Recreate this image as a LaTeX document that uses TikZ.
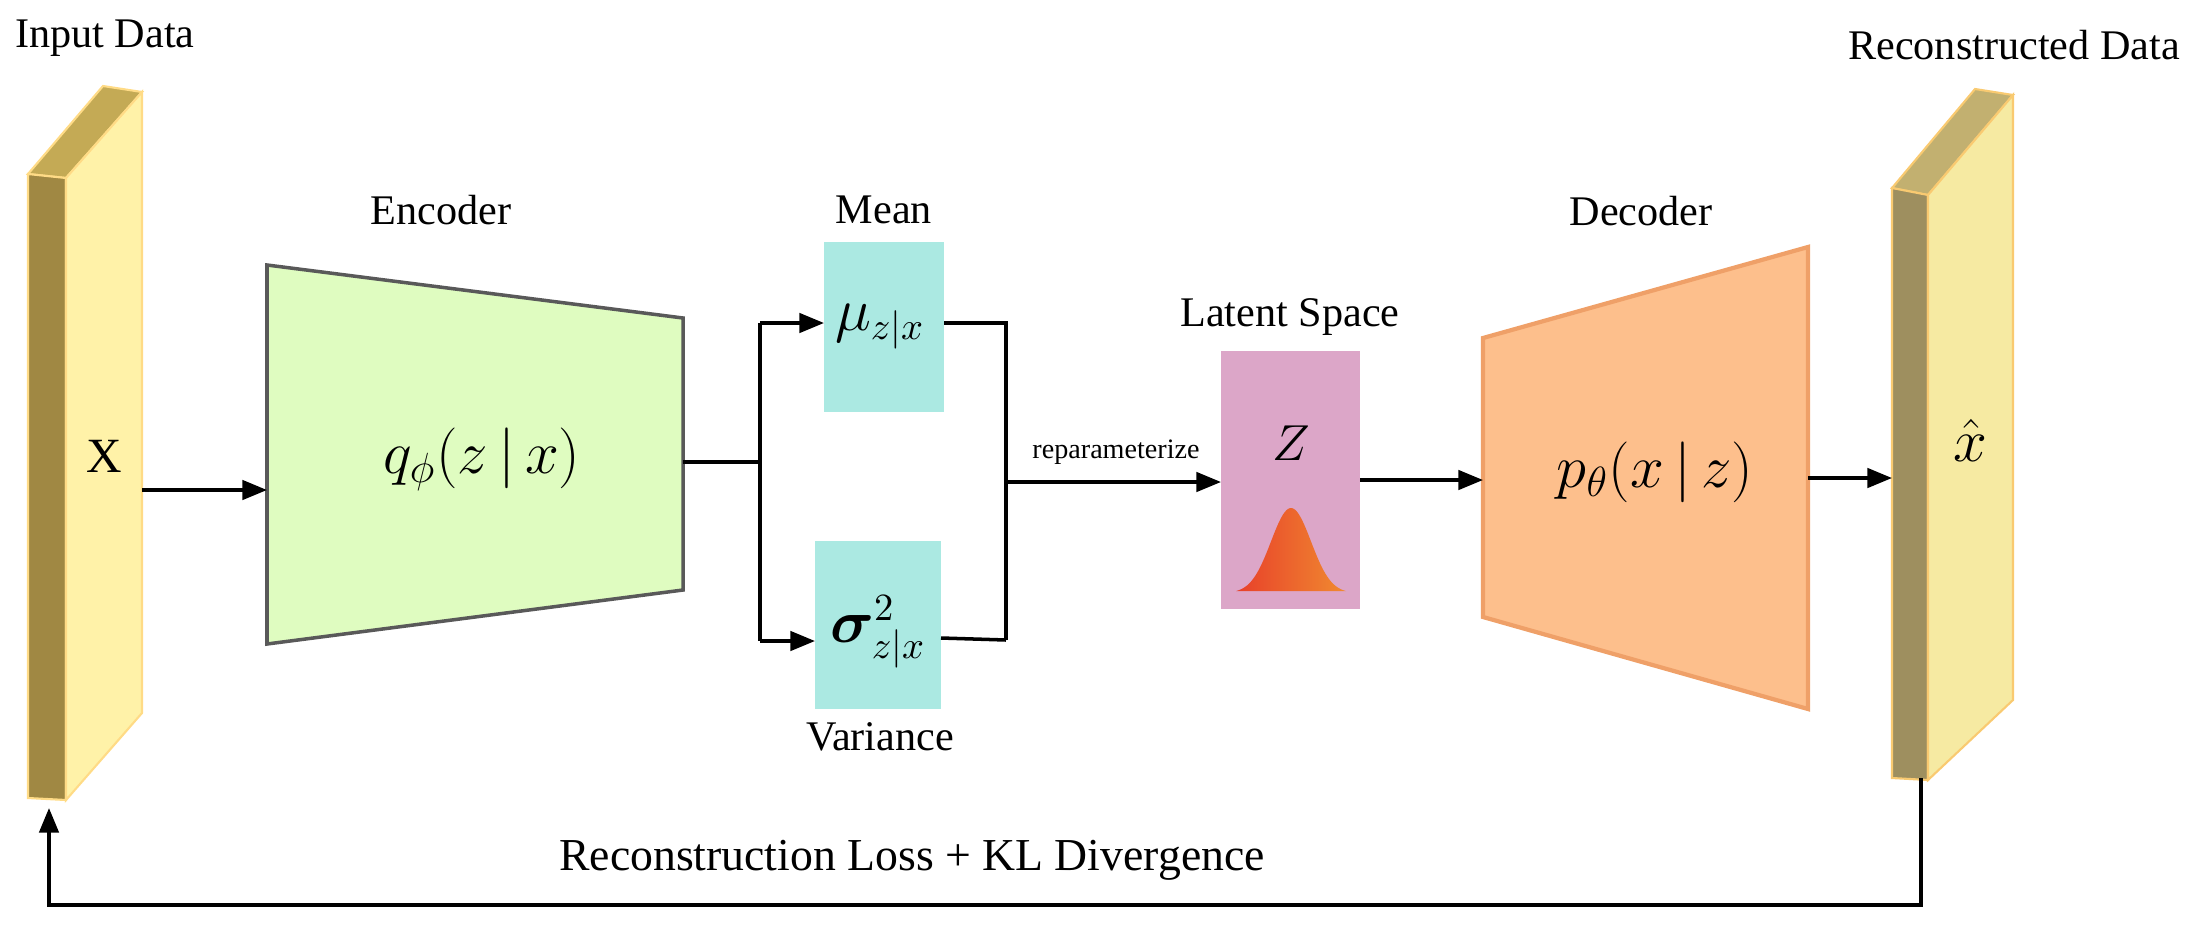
\documentclass[tikz,border=0pt]{standalone}
\usepackage{fontspec}
\setmainfont{Liberation Serif}
\usepackage{amsmath,bm}
\usetikzlibrary{arrows.meta}
\definecolor{ylight}{HTML}{FFF2A8}
\definecolor{ydark}{HTML}{A08843}
\definecolor{ytop}{HTML}{C4AA55}
\definecolor{rlight}{HTML}{F6EAA2}
\definecolor{rdark}{HTML}{9E8F5F}
\definecolor{rtop}{HTML}{C2B070}
\definecolor{encfill}{HTML}{DFFCC0}
\definecolor{cyanbox}{HTML}{ABE9E2}
\definecolor{latent}{HTML}{DCA6C8}
\definecolor{decfill}{HTML}{FDBF8C}
\definecolor{decline}{HTML}{EFA068}
\definecolor{bellL}{HTML}{E8402A}
\definecolor{bellR}{HTML}{F08A30}
\begin{document}
\begin{tikzpicture}[x=0.01cm,y=-0.01cm,
  conn/.style={draw=black,line width=1pt},
  arr/.style={conn,-{Triangle[length=7pt,width=5.5pt]}},
  lbl/.style={font=\fontsize{12}{14}\selectfont,inner sep=0pt}]
\useasboundingbox (0,0) rectangle (2200,933);
% input bar
\fill[ytop,draw=ylight!80!orange,line width=0.6pt] (28,174)--(103,86)--(142,92)--(66,178)--cycle;
\fill[ydark,draw=ylight!80!orange,line width=0.6pt] (28,174)--(66,178)--(66,800)--(28,798)--cycle;
\fill[ylight,draw=ylight!80!orange,line width=0.6pt] (66,178)--(142,92)--(142,713)--(66,800)--cycle;
\node[lbl] (inlbl) at (105,38) {Input Data};
\node[inner sep=0pt,font=\fontsize{14}{16}\selectfont] (xin) at (104,456) {X};
\coordinate (inR) at (142,490);
\coordinate (inB) at (49,808);
% encoder
\fill[encfill,draw=black!65,line width=1pt] (267,265)--(683,318)--(683,590)--(267,644)--cycle;
\node[lbl] (enclbl) at (441,210) {Encoder};
\node[inner sep=0pt,font=\fontsize{17}{19}\selectfont] (q) at (482,459) {$q_{\phi}(z\,|\,x)$};
\coordinate (encL) at (267,490);
\coordinate (encR) at (683,462);
\coordinate (split) at (760,462);
% mean / variance
\fill[cyanbox] (824,242) rectangle (944,412);
\node[inner sep=0pt,font=\fontsize{16}{18}\selectfont] (mu) at (880,327) {$\mu_{z|x}$};
\node[lbl] (meanlbl) at (884,210) {Mean};
\fill[cyanbox] (815,541) rectangle (941,709);
\node[inner sep=0pt,font=\fontsize{16}{18}\selectfont] (sig) at (878,632) {$\boldsymbol{\sigma}^{2}_{z|x}$};
\node[lbl] (varlbl) at (880,737) {Variance};
\coordinate (meanL) at (824,323);
\coordinate (meanR) at (944,323);
\coordinate (varL) at (815,641);
\coordinate (varR) at (941,638);
\coordinate (jT) at (1006,323);
\coordinate (jB) at (1006,640);
\coordinate (jM) at (1006,482);
% latent
\fill[latent] (1221,351) rectangle (1360,609);
\node[lbl] (latlbl) at (1290,317) {Latent Space};
\node[inner sep=0pt,font=\fontsize{15}{17}\selectfont] (Z) at (1291,443) {$Z$};
\shade[left color=bellL,right color=bellR] plot[domain=-55:55,samples=60] ({1291+\x},{593-85*exp(-(\x/20)*(\x/20)/2)}) -- cycle;
\node[font=\fontsize{8}{9}\selectfont,inner sep=0pt] (rep) at (1116,452) {reparameterize};
\coordinate (latL) at (1221,482);
\coordinate (latR) at (1360,480);
% decoder
\fill[decfill,draw=decline,line width=1.2pt] (1483,338)--(1808,247)--(1808,709)--(1483,617)--cycle;
\node[lbl] (declbl) at (1641,211) {Decoder};
\node[inner sep=0pt,font=\fontsize{17}{19}\selectfont] (p) at (1655,472) {$p_{\theta}(x\,|\,z)$};
\coordinate (decL) at (1483,480);
\coordinate (decR) at (1808,478);
% output bar
\fill[rtop,draw=rlight!70!orange,line width=0.6pt] (1892,188)--(1975,89)--(2013,95)--(1928,195)--cycle;
\fill[rdark,draw=rlight!70!orange,line width=0.6pt] (1892,188)--(1928,195)--(1928,780)--(1892,778)--cycle;
\fill[rlight,draw=rlight!70!orange,line width=0.6pt] (1928,195)--(2013,95)--(2013,700)--(1928,780)--cycle;
\node[lbl] (outlbl) at (2014,45) {Reconstructed Data};
\node[inner sep=0pt,font=\fontsize{17}{19}\selectfont] (xhat) at (1970,440) {$\hat{x}$};
\coordinate (outL) at (1892,478);
\coordinate (outB) at (1921,778);
\coordinate (loopR) at (1921,905);
\coordinate (loopL) at (49,905);
\node[font=\fontsize{13}{15}\selectfont,inner sep=0pt] (loss) at (912,860) {Reconstruction Loss + KL Divergence};
% connectors
\draw[arr] (inR) -- (encL);
\draw[conn] (encR) -- (split);
\draw[arr] (split |- meanL) -- (meanL);
\draw[conn] (split |- meanL) -- (split |- varL);
\draw[arr] (split |- varL) -- (varL);
\draw[conn] (meanR) -- (jT) -- (jB);
\draw[conn] (varR) -- (jB);
\draw[arr] (jM) -- (latL);
\draw[arr] (latR) -- (decL);
\draw[arr] (decR) -- (outL);
\draw[arr] (outB) -- (loopR) -- (loopL) -- (inB);
\end{tikzpicture}
\end{document}
